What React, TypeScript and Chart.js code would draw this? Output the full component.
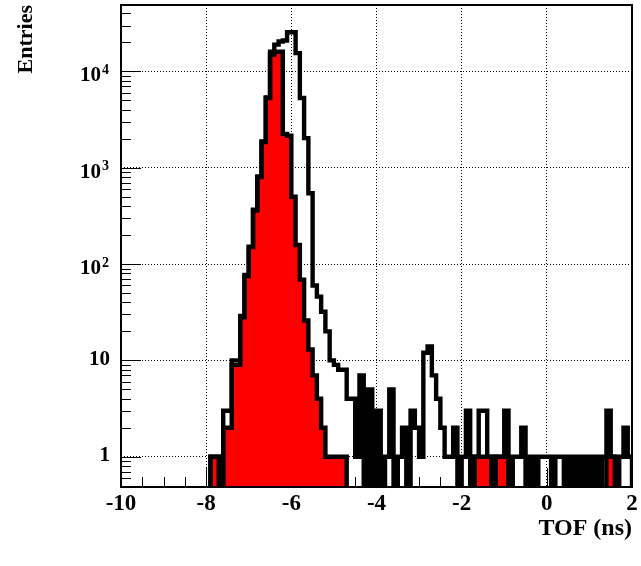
import { useEffect, useRef } from 'react';
import { Chart, registerables } from 'chart.js';

Chart.register(...registerables);

// Lower edges of the 0.1 ns TOF bins that hold entries (range -10 .. 2 ns)
const TOF_BIN_LOW = [
  -8.0, -7.9, -7.8, -7.7, -7.6, -7.5, -7.4, -7.3, -7.2, -7.1,
  -7.0, -6.9, -6.8, -6.7, -6.6, -6.5, -6.4, -6.3, -6.2, -6.1,
  -6.0, -5.9, -5.8, -5.7, -5.6, -5.5, -5.4, -5.3, -5.2, -5.1,
  -5.0, -4.9, -4.8, -4.7, -4.6, -4.5, -4.4, -4.3, -4.2, -4.1,
  -4.0, -3.9, -3.8, -3.7, -3.6, -3.5, -3.4, -3.3, -3.2, -3.1,
  -3.0, -2.9, -2.8, -2.7, -2.6, -2.5, -2.4, -2.3, -2.2, -2.1,
  -2.0, -1.9, -1.8, -1.7, -1.6, -1.5, -1.4, -1.3, -1.2, -1.1,
  -1.0, -0.9, -0.8, -0.7, -0.6, -0.5, -0.4, -0.3, -0.2, -0.1,
  0.0, 0.1, 0.2, 0.3, 0.4, 0.5, 0.6, 0.7, 0.8, 0.9,
  1.0, 1.1, 1.2, 1.3, 1.4, 1.5, 1.6, 1.7, 1.8, 1.9,
];

// All entries (black outline histogram)
const ALL_ENTRIES = [
  0, 1, 1, 0, 3, 3, 10, 10, 29, 77,
  152, 367, 813, 1875, 5370, 16000, 19000, 20500, 21000, 25500,
  25500, 15500, 5300, 2030, 545, 60, 46, 32, 20, 10,
  9, 8, 8, 4, 4, 1, 7, 0, 5, 0,
  3, 0, 1, 5, 0, 1, 2, 0, 3, 2,
  1, 12, 14, 7, 4, 2, 1, 1, 2, 0,
  1, 3, 0, 1, 3, 3, 1, 0, 1, 1,
  3, 0, 1, 1, 2, 0, 1, 0, 1, 1,
  1, 0, 1, 1, 0, 1, 0, 1, 0, 1,
  0, 1, 0, 1, 3, 1, 0, 1, 2, 1,
];

// Selected entries (red filled histogram)
const SELECTED_ENTRIES = [
  0, 1, 1, 0, 2, 2, 9, 9, 28, 75,
  150, 360, 800, 1850, 5300, 15000, 16000, 16000, 2250, 2150,
  500, 158, 69, 26, 13, 7, 4, 2, 1, 1,
  1, 1, 1, 0, 0, 0, 0, 0, 0, 0,
  0, 0, 0, 0, 0, 0, 0, 0, 0, 0,
  0, 0, 0, 0, 0, 0, 0, 0, 0, 0,
  0, 0, 0, 1, 1, 1, 1, 0, 1, 1,
  1, 0, 0, 0, 0, 0, 0, 0, 0, 0,
  0, 0, 0, 0, 0, 0, 0, 0, 0, 0,
  0, 0, 0, 0, 1, 1, 0, 0, 0, 0,
];

const X_MIN = -10;
const X_MAX = 2;
const BIN_WIDTH = 0.1;
const Y_MIN = 0.485;
const Y_MAX = 49000;

const X_TICKS = [-10, -8, -6, -4, -2, 0, 2];
const X_MINOR_TICKS = [
  -9.5, -9, -8.5, -7.5, -7, -6.5, -5.5, -5, -4.5, -3.5, -3, -2.5,
  -1.5, -1, -0.5, 0.5, 1, 1.5,
];
const Y_TICKS = [1, 10, 100, 1000, 10000];
// label = base text + optional exponent (drawn as superscript)
const Y_TICK_BASE = ['1', '10', '10', '10', '10'];
const Y_TICK_EXP = ['', '', '2', '3', '4'];
const Y_DECADES = [0.1, 1, 10, 100, 1000, 10000];
const Y_MINOR_MULT = [2, 3, 4, 5, 6, 7, 8, 9];

const X_TITLE = 'TOF (ns)';
const Y_TITLE = 'Entries';

const FONT_FAMILY = "'Liberation Serif', 'Times New Roman', serif";
const BELOW_AXIS = 0.01; // empty bins are drawn down past the bottom of the frame
const HIST_LINE = 4.4;

function histogramPoints(values: number[]) {
  const pts: { x: number; y: number }[] = [{ x: X_MIN, y: BELOW_AXIS }];
  values.forEach((v, i) => {
    pts.push({ x: TOF_BIN_LOW[i], y: v > 0 ? v : BELOW_AXIS });
  });
  const lastIdx = values.length - 1;
  const last = values[lastIdx];
  pts.push({ x: TOF_BIN_LOW[lastIdx] + BIN_WIDTH, y: last > 0 ? last : BELOW_AXIS });
  pts.push({ x: X_MAX, y: BELOW_AXIS });
  return pts;
}

const rootFramePlugin = {
  id: 'rootFrame',
  beforeDatasetsDraw(chart: any) {
    const { ctx, chartArea: a, scales } = chart;
    const xs = scales.x;
    const ys = scales.y;
    ctx.save();
    ctx.strokeStyle = '#000';
    ctx.lineWidth = 1;
    ctx.beginPath();
    for (const v of X_TICKS) {
      const p = Math.round(xs.getPixelForValue(v)) + 0.5;
      ctx.moveTo(p, a.bottom);
      ctx.lineTo(p, a.bottom - 19);
    }
    for (const v of X_MINOR_TICKS) {
      const p = Math.round(xs.getPixelForValue(v)) + 0.5;
      ctx.moveTo(p, a.bottom);
      ctx.lineTo(p, a.bottom - 10);
    }
    for (const d of Y_DECADES) {
      if (d >= Y_MIN && d <= Y_MAX) {
        const p = Math.round(ys.getPixelForValue(d)) + 0.5;
        ctx.moveTo(a.left, p);
        ctx.lineTo(a.left + 20, p);
      }
      for (const m of Y_MINOR_MULT) {
        const v = d * m;
        if (v < Y_MIN || v > Y_MAX) continue;
        const p = Math.round(ys.getPixelForValue(v)) + 0.5;
        ctx.moveTo(a.left, p);
        ctx.lineTo(a.left + 10, p);
      }
    }
    ctx.stroke();
    ctx.restore();
  },
  afterDatasetsDraw(chart: any) {
    const { ctx, chartArea: a } = chart;
    ctx.save();
    ctx.strokeStyle = '#000';
    ctx.lineWidth = 2;
    ctx.strokeRect(a.left, a.top, a.right - a.left, a.bottom - a.top);
    ctx.restore();
  },
  afterDraw(chart: any) {
    // y tick labels with real superscript exponents, placed by the log scale
    const { ctx, chartArea: a, scales } = chart;
    const ys = scales.y;
    ctx.save();
    ctx.fillStyle = '#000';
    ctx.textAlign = 'right';
    ctx.textBaseline = 'alphabetic';
    Y_TICKS.forEach((v, i) => {
      const py = ys.getPixelForValue(v);
      const exp = Y_TICK_EXP[i];
      if (exp) {
        ctx.font = `bold 14px ${FONT_FAMILY}`;
        ctx.fillText(exp, a.left - 12, py + 2.5);
        ctx.font = `bold 21px ${FONT_FAMILY}`;
        ctx.fillText(Y_TICK_BASE[i], a.left - 20, py + 10);
      } else {
        ctx.font = `bold 21px ${FONT_FAMILY}`;
        ctx.fillText(Y_TICK_BASE[i], a.left - 11, py + 4.5);
      }
    });
    ctx.restore();
  },
};

export default function App() {
  const canvasRef = useRef<HTMLCanvasElement | null>(null);

  useEffect(() => {
    const canvas = canvasRef.current;
    if (!canvas) return;
    const chart = new Chart(canvas, {
      type: 'line',
      data: {
        datasets: [
          {
            label: 'all',
            data: histogramPoints(ALL_ENTRIES),
            stepped: 'before',
            borderColor: '#000000',
            borderWidth: HIST_LINE,
            backgroundColor: 'rgba(0,0,0,0)',
            fill: false,
            pointRadius: 0,
            borderJoinStyle: 'miter',
            borderCapStyle: 'butt',
            clip: 0,
          },
          {
            label: 'selected',
            data: histogramPoints(SELECTED_ENTRIES),
            stepped: 'before',
            borderColor: '#000000',
            borderWidth: HIST_LINE,
            backgroundColor: '#ff0000',
            fill: 'start',
            pointRadius: 0,
            borderJoinStyle: 'miter',
            borderCapStyle: 'butt',
            clip: 0,
          },
        ],
      },
      options: {
        responsive: false,
        animation: false,
        devicePixelRatio: 1,
        events: [],
        layout: { padding: { left: 0, right: 9, top: 5, bottom: 0 } },
        plugins: {
          legend: { display: false },
          tooltip: { enabled: false },
        },
        scales: {
          x: {
            type: 'linear',
            min: X_MIN,
            max: X_MAX,
            afterBuildTicks: (scale: any) => {
              scale.ticks = X_TICKS.map((v) => ({ value: v }));
            },
            afterFit: (scale: any) => {
              scale.height = 79;
              scale.paddingLeft = 0;
              scale.paddingRight = 0;
            },
            grid: {
              color: '#000',
              lineWidth: 1,
              drawTicks: false,
            },
            border: { display: false, dash: [1, 2] },
            ticks: {
              autoSkip: false,
              maxRotation: 0,
              padding: 3,
              color: '#000',
              font: { family: FONT_FAMILY, size: 23, weight: 'bold' },
              callback: (value: any) => String(value),
            },
            title: {
              display: true,
              text: X_TITLE,
              align: 'end',
              color: '#000',
              font: { family: FONT_FAMILY, size: 24, weight: 'bold' },
              padding: { top: 0, bottom: 23 },
            },
          },
          y: {
            type: 'logarithmic',
            min: Y_MIN,
            max: Y_MAX,
            afterBuildTicks: (scale: any) => {
              scale.ticks = Y_TICKS.map((v) => ({ value: v }));
            },
            afterFit: (scale: any) => {
              scale.width = 121;
              scale.paddingTop = 0;
              scale.paddingBottom = 0;
            },
            grid: {
              color: '#000',
              lineWidth: 1,
              drawTicks: false,
            },
            border: { display: false, dash: [1, 2] },
            ticks: {
              display: false,
            },
            title: {
              display: true,
              text: Y_TITLE,
              align: 'end',
              color: '#000',
              font: { family: FONT_FAMILY, size: 22, weight: 'bold' },
              padding: { top: 13, bottom: 0 },
            },
          },
        },
      },
      plugins: [rootFramePlugin],
    } as any);
    return () => chart.destroy();
  }, []);

  return (
    <div style={{ position: 'absolute', left: 0, top: 0, width: 641, height: 566, background: '#fff' }}>
      <canvas ref={canvasRef} width={641} height={566} style={{ display: 'block', width: 641, height: 566 }} />
    </div>
  );
}
